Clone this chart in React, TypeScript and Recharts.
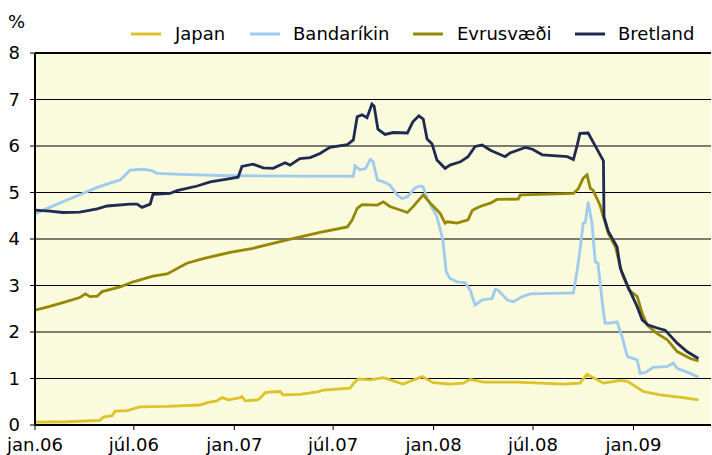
import React from 'react';
import { LineChart, Line, XAxis, YAxis, CartesianGrid, ReferenceLine } from 'recharts';

// x values are days since 1 Jan 2006
const tickDays = [0, 181, 365, 546, 730, 912, 1096];
const tickLabels = ['jan.06', 'júl.06', 'jan.07', 'júl.07', 'jan.08', 'júl.08', 'jan.09'];
const yTicks = [0, 1, 2, 3, 4, 5, 6, 7, 8];

const japanDays = [0, 59, 119, 125, 141, 147, 169, 192, 242, 302, 315, 333, 343, 354, 376, 379, 385, 407, 412, 421, 431, 449, 454, 485, 517, 528, 577, 583, 592, 614, 638, 674, 709, 729, 760, 784, 797, 821, 883, 967, 998, 1011, 1041, 1072, 1085, 1114, 1145, 1187, 1215];
const japanVals = [0.06, 0.07, 0.1, 0.17, 0.2, 0.3, 0.31, 0.39, 0.4, 0.43, 0.48, 0.52, 0.59, 0.54, 0.59, 0.61, 0.52, 0.54, 0.57, 0.69, 0.71, 0.72, 0.65, 0.66, 0.71, 0.75, 0.79, 0.89, 0.99, 0.97, 1.02, 0.88, 1.04, 0.91, 0.88, 0.9, 0.98, 0.92, 0.92, 0.88, 0.9, 1.09, 0.9, 0.96, 0.94, 0.72, 0.65, 0.59, 0.54];

const usDays = [0, 27, 51, 82, 114, 137, 156, 165, 174, 198, 214, 224, 266, 357, 485, 583, 586, 595, 605, 614, 619, 627, 638, 650, 663, 672, 682, 696, 705, 711, 718, 736, 747, 753, 760, 773, 788, 797, 806, 819, 837, 843, 848, 865, 876, 892, 907, 986, 993, 998, 1004, 1008, 1013, 1020, 1026, 1031, 1039, 1044, 1053, 1066, 1075, 1085, 1103, 1108, 1118, 1132, 1158, 1169, 1176, 1200, 1215];
const usVals = [4.54, 4.68, 4.8, 4.95, 5.11, 5.2, 5.27, 5.37, 5.48, 5.5, 5.47, 5.41, 5.39, 5.36, 5.35, 5.35, 5.57, 5.49, 5.51, 5.71, 5.67, 5.27, 5.23, 5.16, 4.95, 4.87, 4.91, 5.1, 5.14, 5.12, 4.87, 4.48, 3.98, 3.3, 3.15, 3.08, 3.06, 2.9, 2.58, 2.69, 2.72, 2.92, 2.9, 2.69, 2.65, 2.76, 2.82, 2.84, 3.33, 3.76, 4.34, 4.36, 4.8, 4.34, 3.51, 3.48, 2.62, 2.19, 2.19, 2.22, 1.9, 1.47, 1.4, 1.11, 1.13, 1.24, 1.26, 1.33, 1.22, 1.11, 1.03];

const euDays = [0, 27, 51, 82, 92, 101, 114, 123, 156, 180, 216, 242, 278, 308, 357, 399, 462, 522, 572, 581, 590, 599, 627, 638, 650, 682, 692, 711, 724, 742, 751, 755, 773, 793, 801, 815, 834, 846, 885, 889, 986, 995, 1004, 1011, 1017, 1022, 1035, 1050, 1063, 1075, 1088, 1103, 1112, 1121, 1139, 1158, 1176, 1200, 1215];
const euVals = [2.47, 2.55, 2.63, 2.74, 2.82, 2.76, 2.77, 2.87, 2.97, 3.08, 3.2, 3.25, 3.48, 3.58, 3.71, 3.8, 3.98, 4.14, 4.26, 4.41, 4.66, 4.74, 4.73, 4.8, 4.7, 4.57, 4.69, 4.95, 4.77, 4.55, 4.34, 4.37, 4.34, 4.41, 4.62, 4.7, 4.77, 4.85, 4.86, 4.95, 4.98, 5.08, 5.31, 5.38, 5.09, 5.05, 4.72, 4.12, 3.83, 3.26, 2.9, 2.76, 2.4, 2.15, 1.97, 1.83, 1.58, 1.43, 1.38];

const ukDays = [0, 27, 51, 82, 114, 132, 174, 187, 196, 211, 216, 247, 260, 297, 321, 357, 372, 379, 399, 418, 436, 458, 467, 485, 504, 522, 540, 572, 583, 590, 599, 608, 617, 621, 628, 641, 656, 682, 692, 703, 711, 718, 727, 736, 751, 760, 779, 793, 806, 819, 834, 861, 870, 898, 911, 929, 975, 986, 993, 998, 1013, 1022, 1035, 1041, 1042, 1050, 1066, 1072, 1086, 1103, 1112, 1123, 1141, 1154, 1176, 1194, 1215];
const ukVals = [4.62, 4.6, 4.57, 4.58, 4.65, 4.71, 4.75, 4.75, 4.68, 4.75, 4.96, 4.98, 5.04, 5.14, 5.23, 5.3, 5.33, 5.56, 5.61, 5.53, 5.52, 5.64, 5.59, 5.73, 5.75, 5.84, 5.97, 6.03, 6.13, 6.63, 6.67, 6.61, 6.9, 6.86, 6.36, 6.25, 6.29, 6.28, 6.52, 6.65, 6.58, 6.15, 6.05, 5.7, 5.52, 5.59, 5.66, 5.77, 5.99, 6.02, 5.91, 5.77, 5.85, 5.97, 5.93, 5.81, 5.77, 5.71, 6.02, 6.27, 6.28, 6.09, 5.81, 5.68, 4.48, 4.16, 3.83, 3.37, 2.97, 2.54, 2.26, 2.15, 2.08, 2.04, 1.76, 1.58, 1.43];

const seriesNames = ['Japan', 'Bandaríkin', 'Evrusvæði', 'Bretland'];
const seriesColors = ['#DEC22A', '#9ECBEE', '#958800', '#1F2A52'];

const build = (days: number[], vals: number[]) => days.map((d, i) => ({ d, v: vals[i] }));
const seriesData = [
  build(japanDays, japanVals),
  build(usDays, usVals),
  build(euDays, euVals),
  build(ukDays, ukVals),
];

const FONT = '"DejaVu Sans", Verdana, sans-serif';
const legendLineX = [131, 250, 413, 575];
const legendTextX = [175, 293, 457, 618];

export default function App() {
  return (
    <div style={{ position: 'absolute', left: 0, top: 0, width: 712, height: 455, background: '#fff' }}>
      <LineChart width={712} height={455} margin={{ top: 53, right: 1, left: 0, bottom: 0 }}>
        <CartesianGrid horizontal vertical={false} stroke="#000" strokeWidth={1} fill="#FAFADC" fillOpacity={1} />
        <XAxis
          type="number"
          dataKey="d"
          domain={[0, 1238]}
          ticks={tickDays}
          tickFormatter={(v: number) => tickLabels[tickDays.indexOf(v)] ?? ''}
          height={30}
          interval={0}
          allowDataOverflow
          axisLine={{ stroke: '#000', strokeWidth: 2 }}
          tickLine={{ stroke: '#000' }}
          tickSize={5}
          tickMargin={8}
          tick={{ fill: '#000', fontSize: 18, fontFamily: FONT }}
        />
        <YAxis
          type="number"
          domain={[0, 8]}
          ticks={yTicks}
          width={35}
          interval={0}
          axisLine={{ stroke: '#000', strokeWidth: 2 }}
          tickLine={{ stroke: '#000' }}
          tickSize={5}
          tickMargin={10}
          tick={{ fill: '#000', fontSize: 18, fontFamily: FONT }}
        />
        <ReferenceLine y={8} stroke="#000" strokeWidth={2} />
        {seriesData.map((data, i) => (
          <Line
            key={seriesNames[i]}
            data={data}
            dataKey="v"
            name={seriesNames[i]}
            type="linear"
            stroke={seriesColors[i]}
            strokeWidth={2.8}
            dot={false}
            activeDot={false}
            isAnimationActive={false}
          />
        ))}
      </LineChart>
      <svg width={712} height={50} style={{ position: 'absolute', left: 0, top: 0 }}>
        <text x={8} y={28} fontSize={18} fontFamily={FONT} fill="#000">%</text>
        {seriesNames.map((n, i) => (
          <g key={n}>
            <line x1={legendLineX[i]} x2={legendLineX[i] + 30} y1={34} y2={34} stroke={seriesColors[i]} strokeWidth={3} />
            <text x={legendTextX[i]} y={40} fontSize={18} fontFamily={FONT} fill="#000">{n}</text>
          </g>
        ))}
      </svg>
    </div>
  );
}
